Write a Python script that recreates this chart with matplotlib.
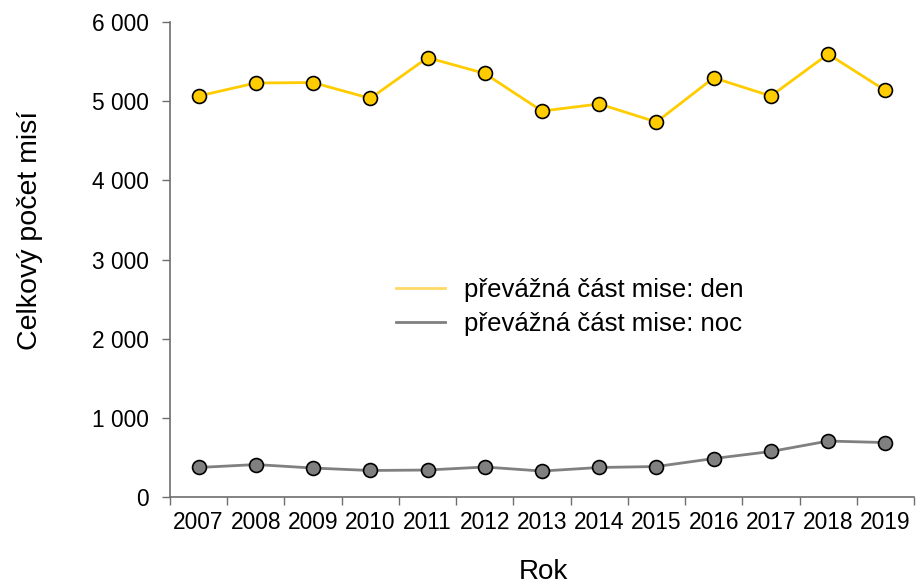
import numpy as np
import matplotlib.pyplot as plt
from matplotlib.ticker import FuncFormatter, FixedLocator

plt.rcParams['font.family'] = ['Liberation Sans', 'DejaVu Sans']

# data
years = ['2007', '2008', '2009', '2010', '2011', '2012', '2013',
         '2014', '2015', '2016', '2017', '2018', '2019']
den = [5065, 5230, 5235, 5035, 5550, 5350, 4875, 4965, 4737, 5295, 5065, 5595, 5135]
noc = [373, 410, 366, 335, 341, 379, 328, 373, 385, 486, 575, 707, 688]

x = np.arange(len(years))

fig = plt.figure(figsize=(9.16, 5.87), dpi=100)
ax = fig.add_axes([0.1856, 0.1533, 0.8122, 0.8092])

ax.plot(x, den, '-o', color='#FFCC00', lw=2, ms=10, mfc='#FFCC00', mec='black', mew=1.2, zorder=3)
ax.plot(x, noc, '-o', color='#808080', lw=2, ms=10, mfc='#808080', mec='black', mew=1.2, zorder=3)

ax.set_xlim(-0.5, len(years) - 0.5)
ax.set_ylim(0, 6000)
ax.set_yticks(np.arange(0, 6001, 1000))
ax.yaxis.set_major_formatter(FuncFormatter(lambda v, p: f'{int(v):,}'.replace(',', ' ')))

ax.set_xticks(x)
ax.set_xticklabels(years)
ax.xaxis.set_minor_locator(FixedLocator(np.arange(-0.5, len(years), 1.0)))
ax.tick_params(axis='x', which='major', length=0, pad=10, labelsize=16.4)
ax.tick_params(axis='x', which='minor', length=6, width=1, color='#6e6e6e')
ax.tick_params(axis='y', length=6, width=1, color='#6e6e6e', labelsize=16.4, pad=9.5)

for s in ['top', 'right']:
    ax.spines[s].set_visible(False)
for s in ['left', 'bottom']:
    ax.spines[s].set_color('#6e6e6e')
    ax.spines[s].set_linewidth(1.2)

fig.text(30 / 916, 1 - 230 / 587, 'Celkový počet misí', rotation=90,
         ha='center', va='center', fontsize=20.5)
fig.text(543 / 916, 1 - 572 / 587, 'Rok', ha='center', va='center', fontsize=20)

h1, = ax.plot([], [], color='#FFD966', lw=2)
h2, = ax.plot([], [], color='#7f7f7f', lw=2)
fig.legend([h1, h2], ['převážná část mise: den', 'převážná část mise: noc'],
           loc='center left', bbox_to_anchor=(396 / 916, 1 - 307 / 587), frameon=False,
           fontsize=18.5, handlelength=1.9, handletextpad=0.75, labelspacing=0.42,
           borderpad=0, borderaxespad=0)

fig.savefig('out.png', dpi=100)
